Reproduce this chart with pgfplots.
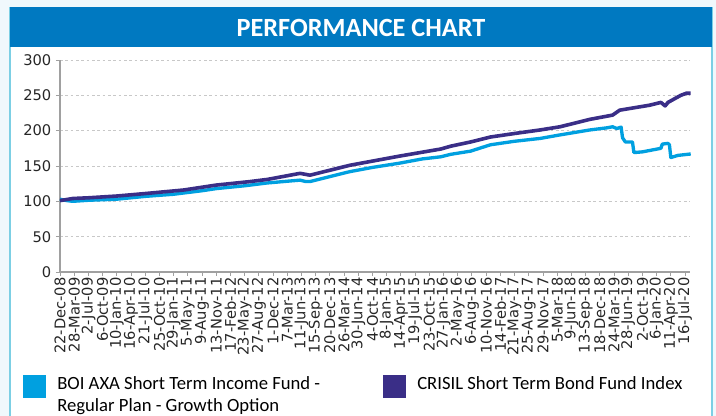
\documentclass[border=0pt]{standalone}
\usepackage{pgfplots}
\pgfplotsset{compat=1.18}
\usepackage{fontspec}
\setmainfont{Carlito}
\newfontfamily\dejavu{DejaVu Sans}
\definecolor{bgc}{HTML}{F0F8FC}
\definecolor{bordc}{HTML}{7CCFE4}
\definecolor{titlec}{HTML}{0079C1}
\definecolor{fundc}{HTML}{00A0E0}
\definecolor{idxc}{HTML}{3A2E87}
\definecolor{axc}{HTML}{A0A0A0}
\definecolor{gridc}{HTML}{C8C8C8}
\begin{document}
\begin{tikzpicture}[x=0.75pt,y=0.75pt]
\useasboundingbox (0,0) rectangle (716,416);
\fill[bgc] (0,0) rectangle (716,416);
\fill[white] (10,-4) rectangle (712,409);
\draw[bordc,line width=1pt] (10,-4) -- (10,409);
\draw[bordc,line width=1pt] (712,-4) -- (712,409);
\fill[titlec] (10,369) rectangle (712,409);
\node[text=white,font=\bfseries\fontsize{19.7}{22}\selectfont] at (361,388) {PERFORMANCE CHART};
\begin{axis}[
  at={(45pt,108pt)}, anchor=south west,
  scale only axis, width=472.5pt, height=159pt,
  xmin=0, xmax=44.35, ymin=0, ymax=300,
  axis x line*=bottom, axis y line*=left,
  axis line style={axc, line width=0.8pt},
  ytick={0,50,...,300},
  ymajorgrids, grid style={gridc, dash pattern=on 2pt off 2pt, line width=0.7pt},
  xtick={0,...,44},
  xticklabels={22-Dec-08,28-Mar-09,2-Jul-09,6-Oct-09,10-Jan-10,16-Apr-10,21-Jul-10,25-Oct-10,29-Jan-11,5-May-11,9-Aug-11,13-Nov-11,17-Feb-12,23-May-12,27-Aug-12,1-Dec-12,7-Mar-13,11-Jun-13,15-Sep-13,20-Dec-13,26-Mar-14,30-Jun-14,4-Oct-14,8-Jan-15,14-Apr-15,19-Jul-15,23-Oct-15,27-Jan-16,2-May-16,6-Aug-16,10-Nov-16,14-Feb-17,21-May-17,25-Aug-17,29-Nov-17,5-Mar-18,9-Jun-18,13-Sep-18,18-Dec-18,24-Mar-19,28-Jun-19,2-Oct-19,6-Jan-20,11-Apr-20,16-Jul-20},
  x tick label style={rotate=90, anchor=east, inner sep=1pt},
  tick label style={font=\dejavu\fontsize{11}{12}\selectfont, text=black!85},
  /pgf/number format/assume math mode=true,
  tick align=outside, major tick length=3pt,
  tick style={axc, line width=0.7pt},
  xtick pos=bottom, ytick pos=left,
  clip=false,
]
\addplot[fundc, line width=2.5pt, line join=round] coordinates {
(0,103) (0.5,101) (0.9,100) (2,101.5) (4,103) (6,107) (8,110) (10,115) (11,118)
(13,122) (14.6,126) (16.9,130) (17.3,128) (17.6,128) (18,130) (20.4,142) (22,148)
(23.9,154) (25.5,160) (26.8,163) (27.5,166.5) (28.9,171) (30.3,180) (32,185)
(33.8,189) (35.2,194) (37.3,201) (38.5,204) (38.9,205.5) (39.2,203) (39.5,205)
(39.6,190) (39.8,184) (40.3,184) (40.4,169) (41,170) (42.3,175) (42.4,181)
(42.8,182) (42.9,180) (43.0,162) (43.5,165) (44.4,167)
};
\addplot[idxc, line width=2.7pt, line join=round] coordinates {
(0,101) (0.9,104) (2,105) (4,107.5) (6,111) (8.7,116) (11,123) (13.4,128)
(14.6,131) (16.9,139.6) (17.6,137) (18.2,140) (20.4,151) (23.9,164) (26.8,174)
(27.5,178) (28.9,184) (30.3,191) (32,196) (33.8,201) (35.2,205.5) (37.3,216)
(38.9,222) (39.4,229) (41.5,236) (42.3,240) (42.6,235) (42.8,240) (43.7,250)
(44.1,253) (44.4,253)
};
\end{axis}
\fill[fundc] (23,18) rectangle (46,41);
\fill[idxc] (383,18) rectangle (406,41);
\node[anchor=base west, font=\fontsize{14}{16}\selectfont, inner sep=0pt] at (57,26) {BOI AXA Short Term Income Fund -};
\node[anchor=base west, font=\fontsize{14}{16}\selectfont, inner sep=0pt] at (57,4) {Regular Plan - Growth Option};
\node[anchor=base west, font=\fontsize{14}{16}\selectfont, inner sep=0pt] at (417,26) {CRISIL Short Term Bond Fund Index};
\end{tikzpicture}
\end{document}
